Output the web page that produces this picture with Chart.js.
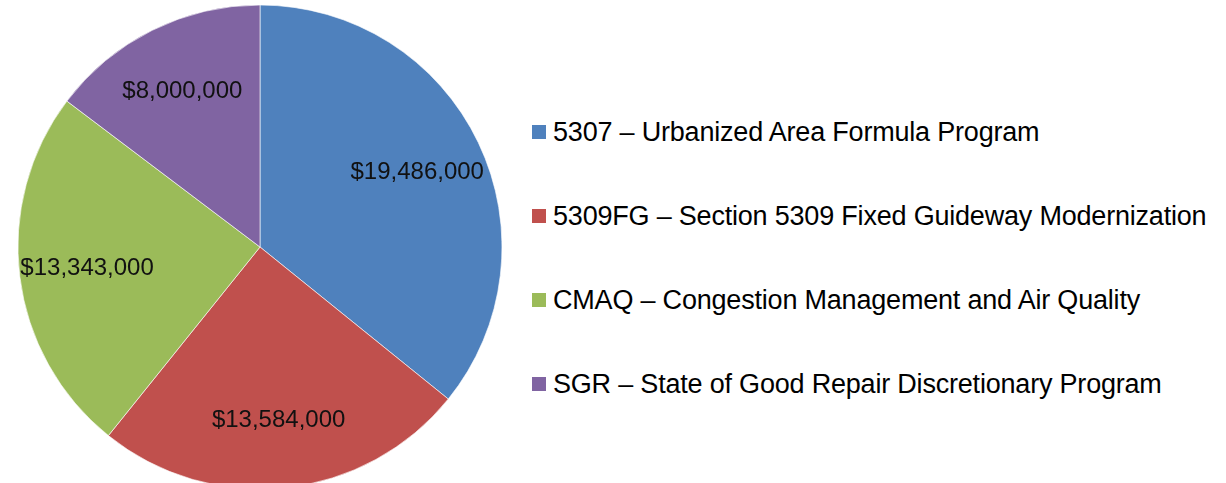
<!DOCTYPE html>
<html>
<head>
<meta charset="utf-8">
<script src="https://cdn.jsdelivr.net/npm/chart.js@4/dist/chart.umd.min.js"></script>
<style>
  html, body { margin: 0; padding: 0; background: #fff; overflow: hidden; }
  body { width: 1226px; height: 483px; position: relative; }
  #fundChart { position: absolute; left: 0; top: 0; }
  #legend { position: absolute; left: 532px; top: 90px; font-family: "Liberation Sans", Arial, sans-serif; font-size: 27px; letter-spacing: -0.2px; color: #000; }
  .item { height: 84px; line-height: 84px; white-space: nowrap; }
  .box { display: inline-block; width: 14px; height: 14px; margin-right: 7px; vertical-align: middle; position: relative; top: -2px; }
</style>
</head>
<body>
<canvas id="fundChart" width="520" height="494"></canvas>
<div id="legend"></div>
<script>
const programs = [
    "5307 – Urbanized Area Formula Program",
    "5309FG – Section 5309 Fixed Guideway Modernization",
    "CMAQ – Congestion Management and Air Quality",
    "SGR – State of Good Repair Discretionary Program"
];
const amounts = [19486000, 13584000, 13343000, 8000000];
const sliceColors = ["#4F81BD", "#C0504D", "#9BBB59", "#8064A2"];

// draws the dollar amount inside each slice
const sliceLabels = {
    id: "sliceLabels",
    afterDatasetsDraw(chart) {
        const ctx = chart.ctx;
        const meta = chart.getDatasetMeta(0);
        ctx.save();
        ctx.font = "24px 'Liberation Sans', Arial, sans-serif";
        ctx.fillStyle = "#111";
        ctx.textAlign = "center";
        ctx.textBaseline = "middle";
        meta.data.forEach(function (arc, i) {
            const p = arc.getProps(["x", "y", "startAngle", "endAngle", "outerRadius"], true);
            const mid = (p.startAngle + p.endAngle) / 2;
            const r = p.outerRadius * 0.72;
            ctx.fillText("$" + amounts[i].toLocaleString("en-US"), p.x + Math.cos(mid) * r, p.y + Math.sin(mid) * r);
        });
        ctx.restore();
    }
};

new Chart("fundChart", {
    type: "pie",
    data: {
        labels: programs,
        datasets: [{
            data: amounts,
            backgroundColor: sliceColors,
            borderColor: "rgba(255,255,255,0.6)",
            borderWidth: 1
        }]
    },
    options: {
        responsive: false,
        animation: false,
        radius: 242,
        layout: { padding: 0 },
        plugins: {
            legend: { display: false },
            tooltip: { enabled: false }
        }
    },
    plugins: [sliceLabels]
});

const legend = document.getElementById("legend");
programs.forEach(function (name, i) {
    const row = document.createElement("div");
    row.className = "item";
    row.innerHTML = '<span class="box" style="background:' + sliceColors[i] + '"></span>' + name;
    legend.appendChild(row);
});
</script>
</body>
</html>
